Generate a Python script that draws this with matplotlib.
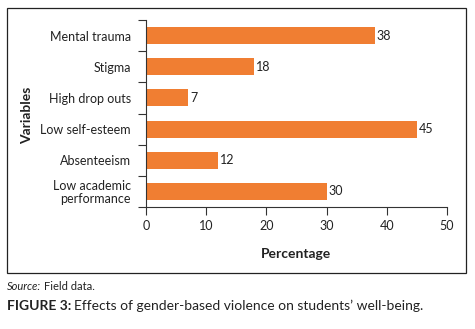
import matplotlib.pyplot as plt
from matplotlib.patches import Rectangle
import numpy as np

plt.rcParams['font.family'] = ['Lato', 'DejaVu Sans']

# data, top to bottom as in the chart
categories = ['Mental trauma', 'Stigma', 'High drop outs', 'Low self-esteem',
              'Absenteeism', 'Low academic\nperformance']
values = [38, 18, 7, 45, 12, 30]
xticks = [0, 10, 20, 30, 40, 50]

bar_color = '#F07E32'
txt = '#222222'

fig = plt.figure(figsize=(4.75, 3.29), dpi=100)
ax = fig.add_axes([146/475, 1-207/329, 301/475, 187/329])

y = np.arange(len(categories))
ax.barh(y, values, height=0.55, color=bar_color)
for yi, v in zip(y, values):
    ax.text(v + 0.3, yi, str(v), va='center', ha='left', fontsize=9, color=txt)

ax.set_ylim(len(categories) - 0.5, -0.5)
ax.set_xlim(0, 50)
ax.set_xticks(xticks)
ax.set_yticks(y)
ax.set_yticklabels(categories, fontsize=9, color=txt, linespacing=1.1)
ax.set_yticks(np.arange(-0.5, len(categories)), minor=True)
ax.tick_params(axis='y', which='major', length=0, pad=11)
ax.tick_params(axis='y', which='minor', length=6, width=0.8, color='#333333')
ax.tick_params(axis='x', length=6, width=0.8, color='#333333', labelsize=9,
               labelcolor=txt, pad=3)
for lbl in ax.get_yticklabels():
    lbl.set_multialignment('right')

for s in ['top', 'right']:
    ax.spines[s].set_visible(False)
for s in ['left', 'bottom']:
    ax.spines[s].set_linewidth(0.8)
    ax.spines[s].set_color('#333333')

ax.set_xlabel('Percentage', fontsize=10, fontweight='bold', color=txt, labelpad=12)
fig.text(27/475, 1-115/329, 'Variables', rotation=90, fontsize=10, fontweight='bold',
         color=txt, ha='center', va='center')

# outer frame
fig.patches.append(Rectangle((7/475, 1-273/329), 459/475, 265/329, transform=fig.transFigure,
                             fill=False, edgecolor=txt, linewidth=0.9))

# source and caption, second piece placed after the first
fig.canvas.draw()
r = fig.canvas.get_renderer()
t1 = fig.text(7/475, 1-287/329, 'Source:', fontsize=8, style='italic', color=txt,
              va='center', ha='left')
x1 = t1.get_window_extent(r).x1
fig.text((x1 + 3)/475, 1-287/329, 'Field data.', fontsize=8, color=txt, va='center', ha='left')
t2 = fig.text(7/475, 1-306/329, 'FIGURE 3:', fontsize=10, fontweight='bold', color=txt,
              va='center', ha='left')
x2 = t2.get_window_extent(r).x1
fig.text((x2 + 3)/475, 1-306/329, 'Effects of gender-based violence on students\u2019 well-being.',
         fontsize=10, color=txt, va='center', ha='left')

fig.savefig('out.png', dpi=100)
